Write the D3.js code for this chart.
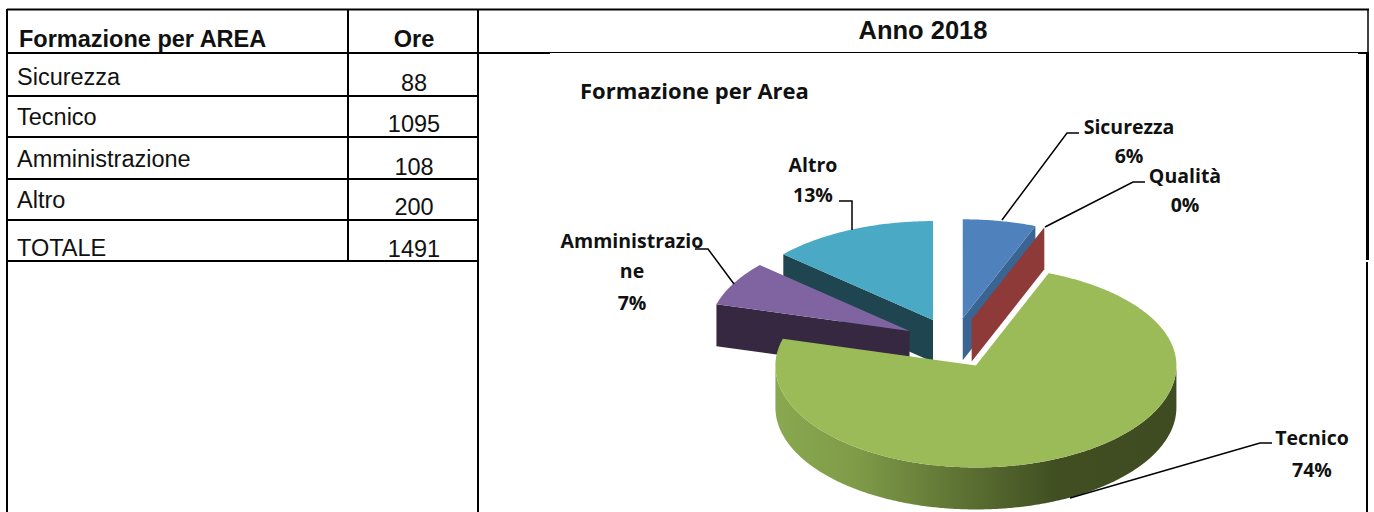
<!DOCTYPE html>
<html><head><meta charset="utf-8">
<style>html,body{margin:0;padding:0;background:#fff}svg{display:block}</style>
<script src="https://cdnjs.cloudflare.com/ajax/libs/d3/7.8.5/d3.min.js"></script>
</head><body><svg id="c" width="1374" height="512"></svg>
<script>
const tableTitle = "Formazione per AREA";
const tableUnit = "Ore";
const tableRows = ["Sicurezza","Tecnico","Amministrazione","Altro","TOTALE"];
const tableHours = [88,1095,108,200,1491];
const yearTitle = "Anno 2018";
const chartTitle = "Formazione per Area";
const categories = ["Sicurezza","Qualità","Tecnico","Amministrazione","Altro"];
const values = [88,0,1095,108,200];
const percents = ["6%","0%","74%","7%","13%"];
const topColors = ["#4f81bd","#c0504d","#9bbb59","#8064a2","#4aa9c4"];
const wallColors = ["#3a6592","#8e3a38","#5f7434","#352840","#1f4650"];
const drawOrder = [0,1,4,3,2];

const svg = d3.select("#c");
const sans = "'Liberation Sans',Arial,sans-serif";
const label = "'Open Sans','Noto Sans',sans-serif";

// ---- table rules
const rule = (x1,y1,x2,y2,w=1.5,c="#000") => svg.append("line").attr("x1",x1).attr("y1",y1).attr("x2",x2).attr("y2",y2).attr("stroke",c).attr("stroke-width",w);
const rowLines = [53,96,137,179,220,261];
rule(7,9.5,1369,9.5,2);
rule(7,9,7,512,2); rule(478,9,478,512,2); rule(348,9,348,261,2);
rowLines.forEach(y=>rule(7,y,478,y,2));
rule(478,53,550,53,2); rule(550,52.5,1368,52.5,1);
rule(1358,53,1369,53,2);
rule(1368,9,1368,53,1.5);
rule(1367.5,53,1367.5,260,3);
rule(1367,262,1367,512,2);
const txt=(x,y,s,size,weight,anchor,fam)=>svg.append("text").attr("x",x).attr("y",y).attr("text-anchor",anchor||"start").attr("font-family",fam||sans).attr("font-size",size).attr("font-weight",weight||400).attr("fill","#111").text(s);
txt(19,47,tableTitle,23.5,700);
txt(414,47,tableUnit,23.5,700,"middle");
const textY = [85,125,167,208,256], numY = [91,132,175,215,257];
tableRows.forEach((t,i)=>{
  txt(17,textY[i],t,23.5);
  txt(414,numY[i],tableHours[i],23.5,400,"middle");
});
txt(923,39,yearTitle,25.5,700,"middle");
txt(580,99,chartTitle,22,700,"start",label);

// ---- exploded 3D pie
const cx=953.5, cy=343, rx=200.5, ryBack=99, ryFront=102, depth=42, explode=0.25;
const pie = d3.pie().sort(null).value(d=>d).startAngle(0).endAngle(2*Math.PI);
const arcs = pie(values);
const P = (a,ox,oy,r=1,dz=0)=>{
  const c=Math.cos(a);
  return [ox+rx*r*Math.sin(a), oy-(c>0?ryBack:ryFront)*r*c+dz];
};
const defs = svg.append("defs");
const g = defs.append("linearGradient").attr("id","gw").attr("gradientUnits","userSpaceOnUse").attr("x1",776).attr("x2",1177).attr("y1",0).attr("y2",0);
[[0,"#89a84f"],[.2,"#7f9b48"],[.45,"#5f7434"],[.7,"#404e22"],[1,"#3f4c21"]].forEach(s=>g.append("stop").attr("offset",s[0]).attr("stop-color",s[1]));
const line = d3.line();
const sample = (a0,a1,ox,oy,dz)=>{
  const n=Math.max(2,Math.ceil(Math.abs(a1-a0)/0.01)), s=d3.range(n+1).map(i=>a0+(a1-a0)*i/n);
  return s.map(a=>P(a,ox,oy,1,dz));
};
const layer = svg.append("g");
drawOrder.forEach(i=>{
  const d=arcs[i];
  const mid=(d.startAngle+d.endAngle)/2;
  const ox=cx+explode*rx*Math.sin(mid), oy=cy-explode*(ryBack+ryFront)/2*Math.cos(mid);
  const face=a=>{ const o=P(a,ox,oy); return [[ox,oy],o,[o[0],o[1]+depth],[ox,oy+depth]]; };
  const s=layer.append("g");
  if(Math.cos(d.startAngle-Math.PI/2)<-1e-6) s.append("path").attr("d",line(face(d.startAngle))+"Z").attr("fill",wallColors[i]);
  if(Math.cos(d.endAngle+Math.PI/2)<-1e-6) s.append("path").attr("d",line(face(d.endAngle))+"Z").attr("fill",wallColors[i]);
  const fa=Math.max(d.startAngle,Math.PI/2), fb=Math.min(d.endAngle,1.5*Math.PI);
  if(fb>fa){
    const pts=sample(fa,fb,ox,oy,0).concat(sample(fb,fa,ox,oy,depth));
    s.append("path").attr("d",line(pts)+"Z").attr("fill","url(#gw)");
  }
  if(d.endAngle>d.startAngle){
    const pts=[[ox,oy]].concat(sample(d.startAngle,d.endAngle,ox,oy,0));
    s.append("path").attr("d",line(pts)+"Z").attr("fill",topColors[i]);
  }
});

// ---- data labels with leaders
const labelX=[1129,1185,1312,632,813];
const labelY=[[134,163],[183,212],[445,477],[248,278,310],[172,202]];
const leaders=[
 [[1002,220],[1067,133],[1079,133]],
 [[1045,227],[1133,182],[1145,182]],
 [[1070,498],[1260,443],[1272,443]],
 [[734,284],[708,249],[695,249]],
 [[852,230],[852,201],[839,201]]
];
const labelLines=[[categories[0]],[categories[1]],[categories[2]],["Amministrazio","ne"],[categories[4]]];
categories.forEach((c,i)=>{
  svg.append("path").attr("d",line(leaders[i])).attr("fill","none").attr("stroke","#000").attr("stroke-width",1.5);
  labelLines[i].concat(percents[i]).forEach((t,j)=>{
    txt(labelX[i],labelY[i][j],t,19.5,700,"middle",label);
  });
});
</script></body></html>
